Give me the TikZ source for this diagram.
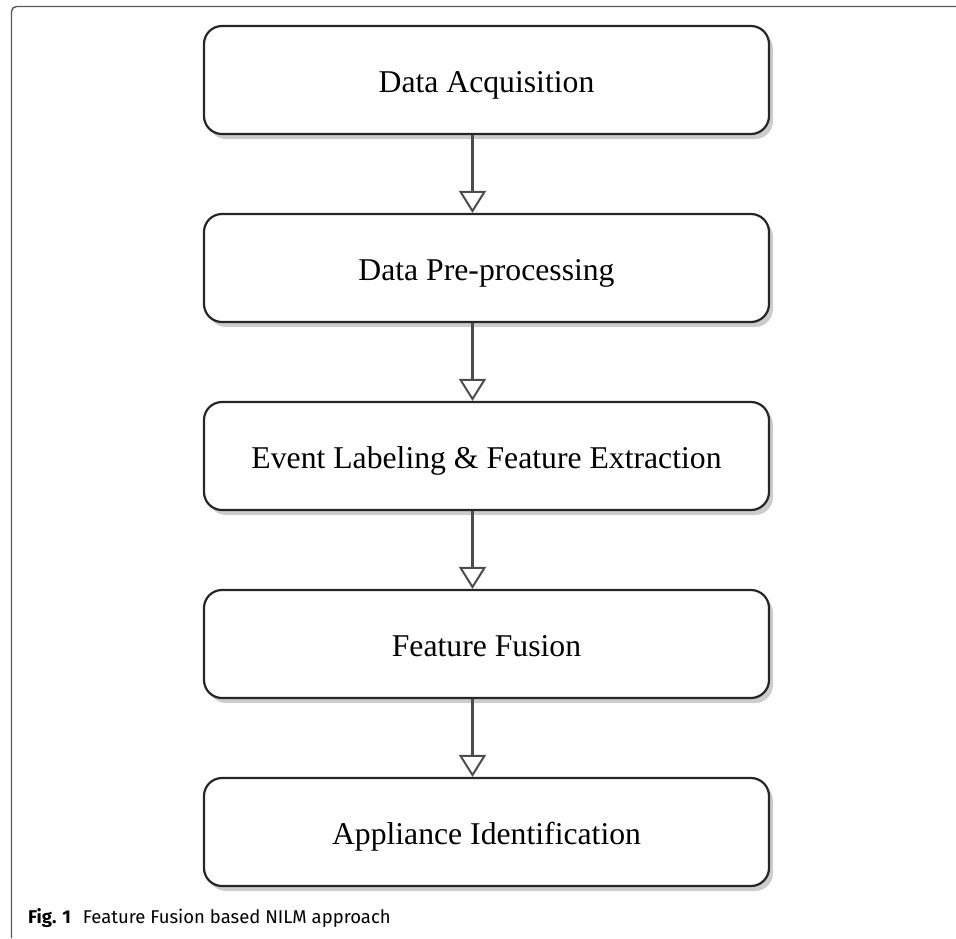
\documentclass[tikz,border=0pt]{standalone}
\usepackage{fontspec}
\setmainfont{Liberation Serif}
\newfontfamily\capfont{Fira Sans}
\usetikzlibrary{arrows.meta, shadows}

\begin{document}
\begin{tikzpicture}[x=1pt, y=-1pt,
    stage/.style = {draw=black!85, line width=2.2pt, rounded corners=18pt, fill=white,
        minimum width=565pt, minimum height=108pt, inner sep=0pt,
        text height=25.4pt, text depth=0pt,
        font=\fontsize{31.7}{36}\selectfont,
        drop shadow={shadow xshift=4pt, shadow yshift=-5pt, fill=black!20, opacity=1}},
    flow/.style = {-{Triangle[open, width=27pt, length=22pt, line width=2pt]},
        line width=2.4pt, draw=black!70}]
    \useasboundingbox (0,0) rectangle (956,938);
    % frame of the figure
    \draw [line width=1.4pt, black!65, rounded corners=5pt] (11.5,938) -- (11.5,6.5) -- (956,6.5);
    % stages
    \node [stage] (acq)  at (486.5,80)  {Data Acquisition};
    \node [stage] (pre)  at (486.5,268) {Data Pre-processing};
    \node [stage] (ext)  at (486.5,456) {Event Labeling \& Feature Extraction};
    \node [stage] (fus)  at (486.5,644) {Feature Fusion};
    \node [stage] (iden) at (486.5,832) {Appliance Identification};
    % arrows
    \draw [flow] ([xshift=-14pt]acq.south) -- ([xshift=-14pt]pre.north);
    \draw [flow] ([xshift=-14pt]pre.south) -- ([xshift=-14pt]ext.north);
    \draw [flow] ([xshift=-14pt]ext.south) -- ([xshift=-14pt]fus.north);
    \draw [flow] ([xshift=-14pt]fus.south) -- ([xshift=-14pt]iden.north);
    % caption
    \node [anchor=base west, inner sep=0pt, font=\capfont\fontsize{18.5}{22}\selectfont] (cap) at (28,923.5)
        {\textbf{Fig. 1}\hspace{12pt}Feature Fusion based NILM approach};
\end{tikzpicture}
\end{document}
